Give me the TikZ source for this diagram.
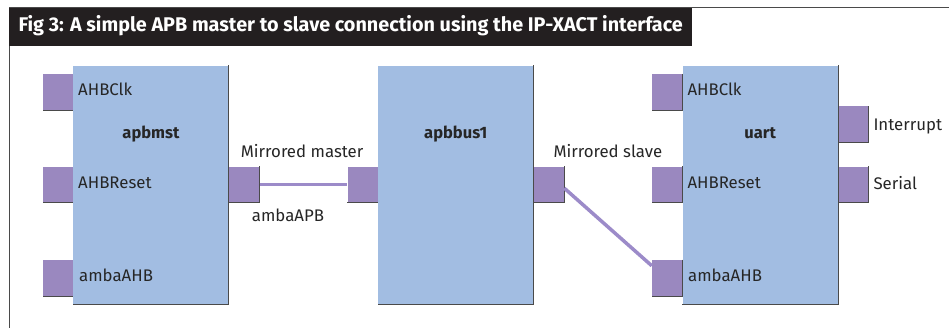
\documentclass[tikz,border=0pt]{standalone}
\usepackage{fontspec}
\setmainfont{Fira Sans}
\usetikzlibrary{calc}
\definecolor{boxblue}{HTML}{A2BDE2}
\definecolor{portpurple}{HTML}{9A88BF}
\definecolor{linkpurple}{HTML}{9C8BC9}
\definecolor{edgegray}{HTML}{4A4A4A}
\definecolor{titleblack}{HTML}{231F20}
\begin{document}
\begin{tikzpicture}[x=1pt,y=-1pt,
  blk/.style={fill=boxblue, minimum width=155.3pt, minimum height=238.3pt, inner sep=0pt, draw=none},
  prt/.style={fill=portpurple, minimum width=30.6pt, minimum height=36pt, inner sep=0pt, draw=none},
  shade/.style={draw=edgegray, line width=1pt},
  lbl/.style={anchor=base west, inner sep=0pt, font=\fontsize{16.8}{19}\selectfont, text=black!85},
  bname/.style={anchor=base, inner sep=0pt, font=\fontsize{16.5}{19}\selectfont\bfseries, text=black!85},
  link/.style={draw=linkpurple, line width=3.5pt}
]
\useasboundingbox (0,0) rectangle (949,328);
\fill[white] (0,0) rectangle (949,328);
% frame
\draw[edgegray, line width=1pt] (949,7.5) -- (9,7.5) -- (9,328);
\fill[titleblack] (9,8) rectangle (692,46);
\node[anchor=base west, inner sep=0pt, text=white, font=\fontsize{19.8}{22}\selectfont\bfseries] (title) at (18.3,32) {Fig 3: A simple APB master to slave connection using the IP-XACT interface};
% ports
\node[prt] (mclk) at (58.3,92) {};
\node[prt] (mrst) at (58.3,184.7) {};
\node[prt] (mahb) at (58.3,277.8) {};
\node[prt] (mm) at (244,184.7) {};
\node[prt] (bl) at (362.8,184.7) {};
\node[prt] (br) at (548.8,184.7) {};
\node[prt] (uclk) at (667.3,92) {};
\node[prt] (urst) at (667.3,184.7) {};
\node[prt] (uahb) at (667.3,277.8) {};
\node[prt] (uint) at (853.3,124.3) {};
\node[prt] (user) at (853.3,184.7) {};
\foreach \p in {mclk,mrst,mahb,mm,bl,br,uclk,urst,uahb,uint,user}
  \draw[shade] (\p.north east) -- (\p.south east) -- (\p.south west);
% blocks
\node[blk] (apbmst) at (151,184.85) {};
\node[blk] (apbbus) at (455.8,184.85) {};
\node[blk] (uart) at (760.2,184.85) {};
\foreach \b in {apbmst,apbbus,uart}
  \draw[shade] (\b.north east) -- (\b.south east) -- (\b.south west);
% connectors
\draw[link] (mm.east) -- (bl.west);
\draw[link] ($(br.east)+(0,3.5)$) -- ($(uahb.west)+(0,-12)$);
% labels
\node[lbl] (l1) at (78,95.7) {AHBClk};
\node[lbl] (l2) at (78,188.3) {AHBReset};
\node[lbl] (l3) at (79,281.5) {ambaAHB};
\node[bname] (n1) at (151,139) {apbmst};
\node[bname] (n2) at (455.8,139) {apbbus1};
\node[bname] (n3) at (760.2,139) {uart};
\node[lbl] (l4) at (240.7,157.3) {Mirrored master};
\node[lbl] (l5) at (251.7,221.7) {ambaAPB};
\node[lbl] (l6) at (553.3,157.3) {Mirrored slave};
\node[lbl] (l7) at (687.3,95.7) {AHBClk};
\node[lbl] (l8) at (687.3,188.3) {AHBReset};
\node[lbl] (l9) at (688,281.5) {ambaAHB};
\node[lbl] (l10) at (873.3,130.5) {Interrupt};
\node[lbl] (l11) at (873.3,190) {Serial};
\end{tikzpicture}
\end{document}
